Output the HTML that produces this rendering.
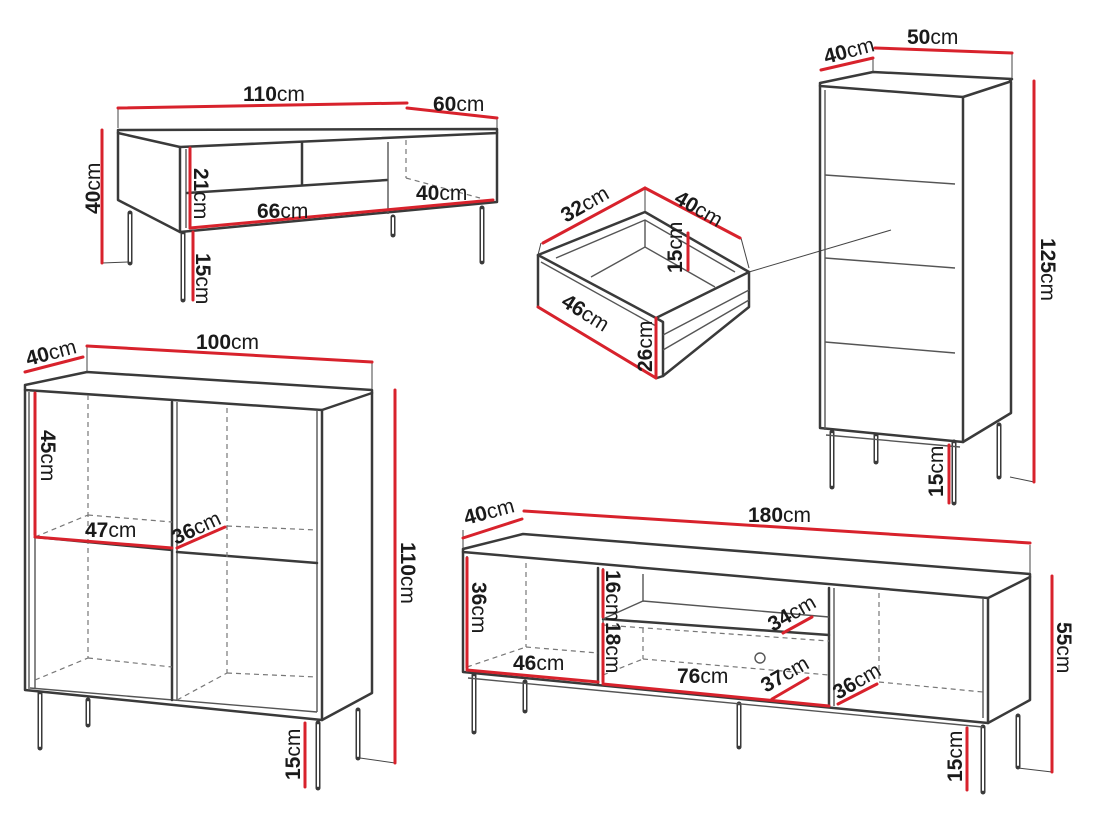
<!DOCTYPE html>
<html><head><meta charset="utf-8"><style>
html,body{margin:0;padding:0;background:#fff}
svg{display:block}
text{font-family:"Liberation Sans",sans-serif;font-size:21px;fill:#1a1a1a}
tspan.b{font-weight:bold}
.k{stroke:#3a3a3a;stroke-width:2.5;fill:none;stroke-linecap:round;stroke-linejoin:round}
.t{stroke:#555;stroke-width:1.4;fill:none}
.d{stroke:#777;stroke-width:1.2;fill:none;stroke-dasharray:5 4}
.r{stroke:#d8222c;stroke-width:3;fill:none;stroke-linecap:round}
.g{stroke:#444;stroke-width:1;fill:none}
.leg{stroke:#3a3a3a;stroke-width:5;stroke-linecap:round}
.legi{stroke:#fff;stroke-width:2;stroke-linecap:round}
</style></head><body>
<svg width="1095" height="821" viewBox="0 0 1095 821" xmlns="http://www.w3.org/2000/svg">

<!-- ============ COFFEE TABLE ============ -->
<g>
<line class="leg" x1="130" y1="213" x2="130" y2="263"/><line class="legi" x1="130" y1="215" x2="130" y2="261"/>
<line class="leg" x1="183" y1="233" x2="183" y2="300"/><line class="legi" x1="183" y1="235" x2="183" y2="298"/>
<line class="leg" x1="393" y1="217" x2="393" y2="235"/><line class="legi" x1="393" y1="218" x2="393" y2="233"/>
<line class="leg" x1="482" y1="208" x2="482" y2="262"/><line class="legi" x1="482" y1="210" x2="482" y2="260"/>
<polyline class="k" points="118,130 497,129 497,133 180,147 118,133 118,130"/>
<polyline class="k" points="118,133 118,200 180,232 497,202 497,133"/>
<line class="k" x1="180" y1="147" x2="180" y2="232"/>
<line class="t" x1="186" y1="149" x2="186" y2="228"/>
<line class="k" x1="187" y1="193" x2="387" y2="180"/>
<line class="k" x1="302" y1="143" x2="302" y2="184"/>
<line class="t" x1="388" y1="142" x2="388" y2="214"/>
<line class="d" x1="406" y1="140" x2="406" y2="178"/>
<line class="d" x1="406" y1="178" x2="480" y2="198"/>
<line class="g" x1="118" y1="108" x2="118" y2="128"/>
<line class="g" x1="497" y1="118" x2="497" y2="128"/>
<line class="g" x1="102" y1="263" x2="128" y2="262"/>
<line class="r" x1="118" y1="108" x2="407" y2="103"/>
<line class="r" x1="407" y1="108" x2="497" y2="118"/>
<line class="r" x1="102" y1="130" x2="102" y2="263"/>
<line class="r" x1="190" y1="148" x2="190" y2="228"/>
<line class="r" x1="193" y1="232" x2="193" y2="300"/>
<line class="r" x1="190" y1="228" x2="493" y2="200"/>
<text x="243" y="101"><tspan class="b">110</tspan>cm</text>
<text x="433" y="111"><tspan class="b">60</tspan>cm</text>
<text transform="translate(100,214) rotate(-90)"><tspan class="b">40</tspan>cm</text>
<text transform="translate(194,168) rotate(90)"><tspan class="b">21</tspan>cm</text>
<text transform="translate(196,253) rotate(90)"><tspan class="b">15</tspan>cm</text>
<text x="257" y="218"><tspan class="b">66</tspan>cm</text>
<text x="416" y="200"><tspan class="b">40</tspan>cm</text>
</g>

<!-- ============ DRAWER ============ -->
<g>
<polygon class="k" points="538,255 645,212 749,272 656,318" fill="#fff"/>
<polyline class="k" points="538,255 538,307 656,378 656,318"/>
<polyline class="k" points="656,318 663,322 663,376 657,378"/>
<polyline class="k" points="663,376 749,307 749,272"/>
<polyline class="t" points="556,258 645,220 735,272"/>
<line class="t" x1="541" y1="262" x2="656" y2="326"/>
<line class="t" x1="645" y1="220" x2="645" y2="247"/>
<polyline class="t" points="591,277 645,247 715,287"/>
<line class="t" x1="663" y1="335" x2="749" y2="290"/>
<line class="t" x1="663" y1="350" x2="749" y2="300"/>
<line class="g" x1="645" y1="188" x2="645" y2="212"/>
<line class="g" x1="541" y1="243" x2="538" y2="255"/>
<line class="g" x1="741" y1="238" x2="749" y2="268"/>
<line class="g" x1="749" y1="272" x2="891" y2="230"/>
<line class="r" x1="543" y1="243" x2="645" y2="188"/>
<line class="r" x1="645" y1="188" x2="740" y2="238"/>
<line class="r" x1="538" y1="307" x2="656" y2="378"/>
<line class="r" x1="656" y1="318" x2="656" y2="378"/>
<line class="r" x1="688" y1="233" x2="688" y2="270"/>
<text transform="translate(566,223) rotate(-30)"><tspan class="b">32</tspan>cm</text>
<text transform="translate(673,202) rotate(30)"><tspan class="b">40</tspan>cm</text>
<text transform="translate(560,305) rotate(32)"><tspan class="b">46</tspan>cm</text>
<text transform="translate(682,273) rotate(-90)"><tspan class="b">15</tspan>cm</text>
<text transform="translate(652,372) rotate(-90)"><tspan class="b">26</tspan>cm</text>
</g>

<!-- ============ TALL CABINET ============ -->
<g>
<line class="leg" x1="832" y1="432" x2="832" y2="487"/><line class="legi" x1="832" y1="434" x2="832" y2="485"/>
<line class="leg" x1="876" y1="435" x2="876" y2="462"/><line class="legi" x1="876" y1="437" x2="876" y2="460"/>
<line class="leg" x1="954" y1="442" x2="954" y2="503"/><line class="legi" x1="954" y1="444" x2="954" y2="501"/>
<line class="leg" x1="999" y1="425" x2="999" y2="477"/><line class="legi" x1="999" y1="427" x2="999" y2="475"/>
<polyline class="k" points="820,83 873,72 1012,79 1009,82 963,97 820,86 820,83"/>
<polyline class="k" points="820,86 820,428 963,442 1011,413 1011,82"/>
<line class="k" x1="963" y1="97" x2="963" y2="442"/>
<line class="t" x1="825" y1="90" x2="825" y2="430"/>
<line class="t" x1="826" y1="435" x2="960" y2="447"/>
<line class="t" x1="825" y1="175" x2="955" y2="184"/>
<line class="t" x1="825" y1="258" x2="955" y2="268"/>
<line class="t" x1="825" y1="342" x2="955" y2="353"/>
<line class="g" x1="873" y1="58" x2="873" y2="72"/>
<line class="g" x1="1012" y1="53" x2="1012" y2="79"/>
<line class="g" x1="1010" y1="477" x2="1034" y2="482"/>
<line class="r" x1="821" y1="70" x2="873" y2="58"/>
<line class="r" x1="875" y1="48" x2="1012" y2="53"/>
<line class="r" x1="1034" y1="81" x2="1034" y2="482"/>
<line class="r" x1="949" y1="445" x2="949" y2="503"/>
<text transform="translate(826,64) rotate(-15)"><tspan class="b">40</tspan>cm</text>
<text x="907" y="44"><tspan class="b">50</tspan>cm</text>
<text transform="translate(1041,238) rotate(90)"><tspan class="b">125</tspan>cm</text>
<text transform="translate(943,497) rotate(-90)"><tspan class="b">15</tspan>cm</text>
</g>

<!-- ============ SIDEBOARD ============ -->
<g>
<line class="leg" x1="40" y1="693" x2="40" y2="748"/><line class="legi" x1="40" y1="695" x2="40" y2="746"/>
<line class="leg" x1="88" y1="700" x2="88" y2="725"/><line class="legi" x1="88" y1="702" x2="88" y2="723"/>
<line class="leg" x1="318" y1="723" x2="318" y2="788"/><line class="legi" x1="318" y1="725" x2="318" y2="786"/>
<line class="leg" x1="358" y1="710" x2="358" y2="758"/><line class="legi" x1="358" y1="712" x2="358" y2="756"/>
<polyline class="k" points="25,385 87,372 372,390 372,393 322,410 25,390 25,385"/>
<polyline class="k" points="25,390 25,690 322,720 372,693 372,393"/>
<line class="k" x1="322" y1="410" x2="322" y2="720"/>
<line class="t" x1="29" y1="392" x2="29" y2="690"/>
<line class="t" x1="35" y1="395" x2="35" y2="688"/>
<line class="t" x1="317" y1="410" x2="317" y2="712"/>
<line class="t" x1="30" y1="688" x2="317" y2="712"/>
<line class="k" x1="172" y1="402" x2="172" y2="700"/>
<line class="t" x1="177" y1="402" x2="177" y2="700"/>
<line class="k" x1="35" y1="537" x2="172" y2="550"/>
<line class="k" x1="177" y1="552" x2="317" y2="563"/>
<line class="d" x1="88" y1="395" x2="88" y2="658"/>
<line class="d" x1="227" y1="408" x2="227" y2="673"/>
<line class="d" x1="35" y1="537" x2="88" y2="515"/>
<line class="d" x1="88" y1="515" x2="172" y2="522"/>
<line class="d" x1="227" y1="526" x2="317" y2="530"/>
<line class="d" x1="35" y1="680" x2="88" y2="658"/>
<line class="d" x1="88" y1="658" x2="172" y2="667"/>
<line class="d" x1="177" y1="700" x2="227" y2="673"/>
<line class="d" x1="227" y1="673" x2="317" y2="677"/>
<line class="g" x1="87" y1="346" x2="87" y2="372"/>
<line class="g" x1="372" y1="362" x2="372" y2="390"/>
<line class="g" x1="360" y1="758" x2="395" y2="763"/>
<line class="r" x1="25" y1="372" x2="83" y2="357"/>
<line class="r" x1="87" y1="346" x2="372" y2="362"/>
<line class="r" x1="395" y1="390" x2="395" y2="763"/>
<line class="r" x1="35" y1="393" x2="35" y2="535"/>
<line class="r" x1="35" y1="537" x2="172" y2="548"/>
<line class="r" x1="177" y1="548" x2="225" y2="527"/>
<line class="r" x1="305" y1="723" x2="305" y2="787"/>
<text transform="translate(28,366) rotate(-15)"><tspan class="b">40</tspan>cm</text>
<text x="196" y="349"><tspan class="b">100</tspan>cm</text>
<text transform="translate(41,430) rotate(90)"><tspan class="b">45</tspan>cm</text>
<text x="85" y="537"><tspan class="b">47</tspan>cm</text>
<text transform="translate(176,545) rotate(-25)"><tspan class="b">36</tspan>cm</text>
<text transform="translate(401,542) rotate(90)"><tspan class="b">110</tspan>cm</text>
<text transform="translate(300,780) rotate(-90)"><tspan class="b">15</tspan>cm</text>
</g>

<!-- ============ TV STAND ============ -->
<g>
<line class="leg" x1="474" y1="675" x2="474" y2="732"/><line class="legi" x1="474" y1="677" x2="474" y2="730"/>
<line class="leg" x1="525" y1="682" x2="525" y2="711"/><line class="legi" x1="525" y1="684" x2="525" y2="709"/>
<line class="leg" x1="739" y1="704" x2="739" y2="747"/><line class="legi" x1="739" y1="706" x2="739" y2="745"/>
<line class="leg" x1="983" y1="727" x2="983" y2="792"/><line class="legi" x1="983" y1="729" x2="983" y2="790"/>
<line class="leg" x1="1018" y1="716" x2="1018" y2="767"/><line class="legi" x1="1018" y1="718" x2="1018" y2="765"/>
<polyline class="k" points="463,549 523,534 1030,574 1030,577 988,598 463,552 463,549"/>
<polyline class="k" points="463,552 463,672 988,723 1030,700 1030,577"/>
<line class="k" x1="988" y1="598" x2="988" y2="723"/>
<line class="t" x1="467" y1="556" x2="467" y2="672"/>
<line class="t" x1="983" y1="598" x2="983" y2="718"/>
<line class="t" x1="468" y1="678" x2="983" y2="727"/>
<line class="k" x1="598" y1="568" x2="598" y2="684"/>
<line class="t" x1="603" y1="568" x2="603" y2="684"/>
<line class="k" x1="829" y1="588" x2="829" y2="706"/>
<line class="t" x1="834" y1="588" x2="834" y2="706"/>
<line class="k" x1="603" y1="619" x2="829" y2="635"/>
<polyline class="t" points="603,619 643,601 829,617"/>
<line class="t" x1="643" y1="574" x2="643" y2="601"/>
<line class="d" x1="643" y1="628" x2="643" y2="659"/>
<line class="d" x1="603" y1="625" x2="829" y2="641"/>
<line class="d" x1="603" y1="675" x2="643" y2="659"/>
<line class="d" x1="643" y1="659" x2="829" y2="675"/>
<line class="d" x1="526" y1="563" x2="526" y2="647"/>
<line class="d" x1="467" y1="667" x2="526" y2="647"/>
<line class="d" x1="526" y1="647" x2="598" y2="653"/>
<line class="d" x1="879" y1="593" x2="879" y2="682"/>
<line class="d" x1="879" y1="682" x2="983" y2="692"/>
<circle cx="760" cy="658" r="5" class="t"/>
<line class="g" x1="463" y1="530" x2="463" y2="549"/>
<line class="g" x1="1030" y1="545" x2="1030" y2="574"/>
<line class="g" x1="1018" y1="768" x2="1052" y2="772"/>
<line class="r" x1="463" y1="538" x2="522" y2="519"/>
<line class="r" x1="524" y1="511" x2="1030" y2="543"/>
<line class="r" x1="1052" y1="576" x2="1052" y2="772"/>
<line class="r" x1="467" y1="558" x2="467" y2="668"/>
<line class="r" x1="467" y1="670" x2="598" y2="682"/>
<line class="r" x1="603" y1="570" x2="603" y2="617"/>
<line class="r" x1="603" y1="624" x2="603" y2="682"/>
<line class="r" x1="603" y1="684" x2="829" y2="706"/>
<line class="r" x1="783" y1="633" x2="812" y2="617"/>
<line class="r" x1="772" y1="699" x2="808" y2="678"/>
<line class="r" x1="838" y1="704" x2="877" y2="684"/>
<line class="r" x1="967" y1="728" x2="967" y2="790"/>
<text transform="translate(466,525) rotate(-15)"><tspan class="b">40</tspan>cm</text>
<text x="748" y="522"><tspan class="b">180</tspan>cm</text>
<text transform="translate(472,582) rotate(90)"><tspan class="b">36</tspan>cm</text>
<text x="513" y="670"><tspan class="b">46</tspan>cm</text>
<text transform="translate(606,570) rotate(90)"><tspan class="b">16</tspan>cm</text>
<text transform="translate(606,622) rotate(90)"><tspan class="b">18</tspan>cm</text>
<text transform="translate(773,632) rotate(-30)"><tspan class="b">34</tspan>cm</text>
<text x="677" y="683"><tspan class="b">76</tspan>cm</text>
<text transform="translate(766,693) rotate(-30)"><tspan class="b">37</tspan>cm</text>
<text transform="translate(838,700) rotate(-30)"><tspan class="b">36</tspan>cm</text>
<text transform="translate(1057,622) rotate(90)"><tspan class="b">55</tspan>cm</text>
<text transform="translate(962,782) rotate(-90)"><tspan class="b">15</tspan>cm</text>
</g>
</svg>
</body></html>
